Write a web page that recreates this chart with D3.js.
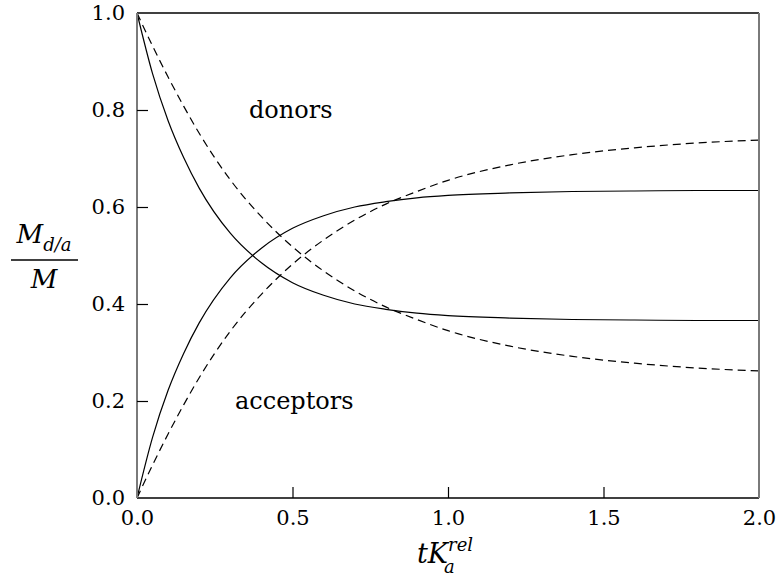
<!DOCTYPE html>
<html>
<head>
<meta charset="utf-8">
<script src="https://cdn.jsdelivr.net/npm/d3@7"></script>
</head>
<body style="margin:0; background:#fff">
<svg id="fig" width="778" height="578"></svg>
<script>
// values
const times = [0, 0.05, 0.1, 0.15, 0.2, 0.3, 0.4, 0.5, 0.6, 0.7, 0.8, 0.9, 1.0, 1.2, 1.4, 1.6, 1.8, 2.0];
const donorsSolid = [1.0, 0.875, 0.778, 0.702, 0.639, 0.546, 0.485, 0.444, 0.418, 0.400, 0.389, 0.381, 0.376, 0.371, 0.368, 0.367, 0.366, 0.366];
const acceptorsSolid = [0, 0.125, 0.222, 0.298, 0.361, 0.454, 0.515, 0.556, 0.582, 0.600, 0.611, 0.619, 0.624, 0.629, 0.632, 0.633, 0.634, 0.634];
const donorsDashed = [1.0, 0.932, 0.868, 0.808, 0.752, 0.656, 0.580, 0.518, 0.468, 0.427, 0.394, 0.368, 0.345, 0.313, 0.292, 0.278, 0.268, 0.262];
const acceptorsDashed = [0, 0.068, 0.132, 0.192, 0.248, 0.344, 0.420, 0.482, 0.532, 0.573, 0.606, 0.632, 0.655, 0.687, 0.708, 0.722, 0.732, 0.738];
const xTicks = [0, 0.5, 1.0, 1.5, 2.0];
const yTicks = [0, 0.2, 0.4, 0.6, 0.8, 1.0];

(() => {
  const FONT = "DejaVu Serif";

  function serif(sel, size, italic) {
    sel.attr("font-family", FONT).attr("font-size", size);
    if (italic) sel.attr("font-style", "italic");
    return sel;
  }

  const series = [
    { values: donorsSolid, dash: null },
    { values: acceptorsSolid, dash: null },
    { values: donorsDashed, dash: "8,5" },
    { values: acceptorsDashed, dash: "8,5" },
  ];

  const margin = { left: 137, top: 13, right: 19, bottom: 80 };
  const width = 778 - margin.left - margin.right;
  const height = 578 - margin.top - margin.bottom;

  const svg = d3.select("#fig");

  const x = d3.scaleLinear().domain([0, 2]).range([margin.left, margin.left + width]);
  const y = d3.scaleLinear().domain([0, 1]).range([margin.top + height, margin.top]);

  // in-plot annotations
  serif(svg.append("text"), 24, false)
    .attr("x", x(0.36)).attr("y", y(0.8)).attr("dy", "0.35em").text("donors");
  serif(svg.append("text"), 24, false)
    .attr("x", x(0.315)).attr("y", y(0.2)).attr("dy", "0.35em").text("acceptors");

  const g = svg.append("g");

  const line = d3.line()
    .x((d) => x(d[0]))
    .y((d) => y(d[1]))
    .curve(d3.curveMonotoneX);

  g.selectAll("path.curve")
    .data(series)
    .enter()
    .append("path")
    .attr("class", "curve")
    .attr("d", (s) => line(times.map((t, i) => [t, s.values[i]])))
    .attr("fill", "none")
    .attr("stroke", "#000")
    .attr("stroke-width", 1.2)
    .attr("stroke-dasharray", (s) => s.dash);

  const x0 = margin.left, x1 = margin.left + width, y0 = margin.top, y1 = margin.top + height;
  // frame: top/bottom black, left/right grey
  g.append("line").attr("x1", x0).attr("x2", x1).attr("y1", y0).attr("y2", y0)
    .attr("stroke", "#000").attr("stroke-width", 1.4);
  g.append("line").attr("x1", x0).attr("x2", x1).attr("y1", y1).attr("y2", y1)
    .attr("stroke", "#000").attr("stroke-width", 1.4);
  g.append("line").attr("x1", x0).attr("x2", x0).attr("y1", y0).attr("y2", y1)
    .attr("stroke", "#7a7a7a").attr("stroke-width", 2);
  g.append("line").attr("x1", x1).attr("x2", x1).attr("y1", y0).attr("y2", y1)
    .attr("stroke", "#7a7a7a").attr("stroke-width", 2);

  const xAxis = svg.append("g")
    .attr("transform", `translate(0,${y1})`)
    .call(d3.axisBottom(x).tickValues(xTicks).tickFormat(d3.format(".1f"))
      .tickSizeInner(-11).tickSizeOuter(0).tickPadding(12));
  const yAxis = svg.append("g")
    .attr("transform", `translate(${x0},0)`)
    .call(d3.axisLeft(y).tickValues(yTicks).tickFormat(d3.format(".1f"))
      .tickSizeInner(-11).tickSizeOuter(0).tickPadding(12));

  [xAxis, yAxis].forEach((ax) => {
    ax.attr("font-family", FONT).attr("font-size", 21);
    ax.select(".domain").remove();
    ax.selectAll(".tick line").attr("stroke", "#000").attr("stroke-width", 1.2);
    ax.selectAll(".tick text").attr("fill", "#000");
  });
  xAxis.selectAll(".tick line").filter((d) => d === 0 || d === 2).remove();
  yAxis.selectAll(".tick line").filter((d) => d === 0 || d === 1).remove();

  // y-axis title as a fraction M_{d/a} / M
  const numer = serif(svg.append("text"), 26, true)
    .attr("x", 44).attr("y", 243).attr("text-anchor", "middle");
  numer.append("tspan").text("M");
  numer.append("tspan").attr("font-size", 18).attr("dy", 8).text("d/a");
  svg.append("line").attr("x1", 11).attr("x2", 78).attr("y1", 260).attr("y2", 260)
    .attr("stroke", "#000").attr("stroke-width", 1.3);
  serif(svg.append("text"), 26, true)
    .attr("x", 44).attr("y", 288).attr("text-anchor", "middle").text("M");

  // x-axis title t K_a^rel
  const xt = serif(svg.append("text"), 27, true).attr("x", 417).attr("y", 563);
  xt.append("tspan").text("tK");
  const kEnd = 417 + xt.node().getComputedTextLength();
  xt.append("tspan").attr("font-size", 18).attr("dy", -12).text("rel");
  serif(svg.append("text"), 18, true).attr("x", kEnd - 4).attr("y", 573).text("a");
})();
</script>
</body>
</html>
